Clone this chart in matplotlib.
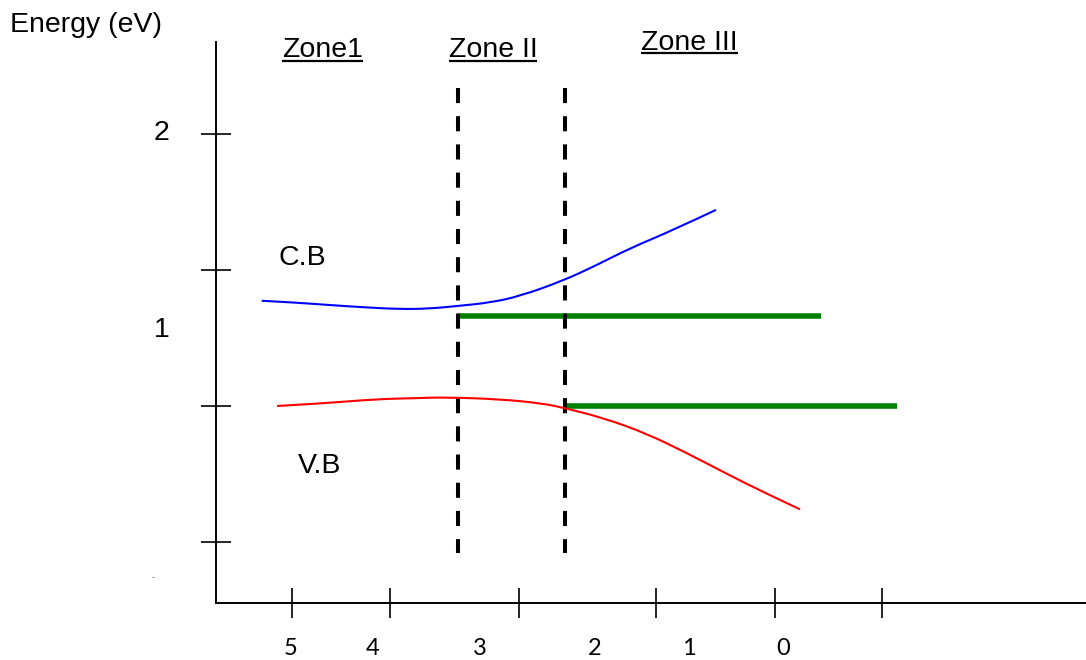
import matplotlib
matplotlib.use("Agg")
import matplotlib.pyplot as plt
from matplotlib.path import Path
from matplotlib.patches import PathPatch

# ---------------- data (position in arbitrary units, energy in eV) ----------------
cb_x = [0.457, 0.807, 1.14, 1.473, 1.84, 2.14, 2.423, 2.74, 3.04, 3.473, 3.807, 4.14, 4.573, 5.00]
cb_e = [1.387, 1.380, 1.371, 1.363, 1.356, 1.358, 1.368, 1.380, 1.404, 1.461, 1.518, 1.580, 1.647, 1.721]

vb_x = [0.611, 1.09, 1.59, 2.007, 2.298, 2.84, 3.257, 3.494, 3.882, 4.298, 4.715, 5.132, 5.465, 5.84]
vb_e = [1.000, 1.010, 1.025, 1.029, 1.032, 1.025, 1.010, 0.992, 0.955, 0.900, 0.826, 0.746, 0.685, 0.620]

zone_bounds_x = [2.42, 3.49]
zone_bounds_e = [2.169, 0.460]

green_levels_e = [1.331, 1.000]
green_start_x = [2.42, 3.49]
green_end_x = [6.05, 6.81]

x_ticks = [0.76, 1.74, 3.03, 4.40, 5.59, 6.66]
x_tick_labels = ["5", "4", "3", "2", "1", "0"]
x_label_pos = [0.75, 1.565, 2.643, 3.785, 4.73, 5.67]

y_ticks = [0.5, 1.0, 1.5, 2.0]
y_tick_labels = ["2", "1"]
y_label_pos = [1.978, 1.254]

zone_names = ["Zone1", "Zone II", "Zone III"]
zone_name_x = [1.065, 2.77, 4.735]
zone_name_e = [2.283, 2.283, 2.309]


def smooth_path(xs, ys):
    """Quadratic Bezier rendering through the midpoints of the read points."""
    pts = list(zip(xs, ys))
    verts = [pts[0]]
    codes = [Path.MOVETO]
    n = len(pts)
    for i in range(1, n - 1):
        mid = ((pts[i][0] + pts[i + 1][0]) / 2, (pts[i][1] + pts[i + 1][1]) / 2)
        if i == n - 2:
            mid = pts[-1]
        verts += [pts[i], mid]
        codes += [Path.CURVE3, Path.CURVE3]
    return Path(verts, codes)


# ---------------- figure ----------------
fig = plt.figure(figsize=(10.86, 6.6), dpi=100)
fig.patch.set_facecolor("white")
ax = fig.add_axes([0, 0, 1, 1])
ax.set_xlim(-2.16, 8.70)
ax.set_ylim(0.0662, 2.4926)
ax.patch.set_alpha(0)

axis_base = 0.2757
ax.spines["top"].set_visible(False)
ax.spines["right"].set_visible(False)
ax.spines["left"].set_position(("data", 0))
ax.spines["left"].set_bounds(axis_base, 2.338)
ax.spines["bottom"].set_position(("data", axis_base))
ax.spines["bottom"].set_bounds(0, 8.70)
for s in ("left", "bottom"):
    ax.spines[s].set_linewidth(1.4)
    ax.spines[s].set_color("black")

ax.set_xticks(x_ticks)
ax.set_xticklabels([])
ax.set_yticks(y_ticks)
ax.set_yticklabels([])
ax.tick_params(axis="y", direction="inout", length=22.3, width=1.2, color="black")
ax.tick_params(axis="x", direction="inout", length=21.6, width=1.2, color="black")

# Zone boundaries (dashed)
for xb in zone_bounds_x:
    ax.plot([xb, xb], zone_bounds_e, color="black", lw=2.9,
            linestyle=(0, (3.75, 3.25)), zorder=3)

# Band curves
ax.add_patch(PathPatch(smooth_path(cb_x, cb_e), facecolor="none",
                       edgecolor="#0000ff", lw=1.5, zorder=4))
ax.add_patch(PathPatch(smooth_path(vb_x, vb_e), facecolor="none",
                       edgecolor="#ff0000", lw=1.5, zorder=4))

# Green levels
for e, x0, x1 in zip(green_levels_e, green_start_x, green_end_x):
    ax.plot([x0, x1], [e, e], color="#008000", lw=4.0, solid_capstyle="butt", zorder=2)

arial = "Liberation Sans"
fs = 20.5

ax.text(-2.06, 2.375, "Energy (eV)", fontsize=fs, family=arial, ha="left", va="baseline")
ax.text(0.62, 1.518, "C.B", fontsize=fs, family=arial, ha="left", va="baseline")
ax.text(0.82, 0.754, "V.B", fontsize=fs, family=arial, ha="left", va="baseline")

for lab, e in zip(y_tick_labels, y_label_pos):
    ax.text(-0.545, e, lab, fontsize=fs, family=arial, ha="center", va="baseline")

for lab, x in zip(x_tick_labels, x_label_pos):
    ax.text(x, 0.085, lab, fontsize=17, family="Lato", ha="center", va="baseline")

ax.text(-0.63, 0.368, "-", fontsize=6, color="#777777", ha="center", va="center")

zone_texts = []
for name, x, e in zip(zone_names, zone_name_x, zone_name_e):
    t = ax.text(x, e, name, fontsize=fs, family=arial, ha="center", va="baseline")
    zone_texts.append((t, x, e))

# underline the zone titles
fig.canvas.draw()
renderer = fig.canvas.get_renderer()
inv = ax.transData.inverted()
for t, x, e in zone_texts:
    bb = t.get_window_extent(renderer)
    _, yb = ax.transData.transform((x, e))
    y_ul = yb - 3.5
    (xa, ya) = inv.transform((bb.x0, y_ul))
    (xc, _) = inv.transform((bb.x1, y_ul))
    ax.plot([xa, xc], [ya, ya], color="black", lw=1.6, solid_capstyle="butt")

fig.savefig("out.png", dpi=100, facecolor="white")
